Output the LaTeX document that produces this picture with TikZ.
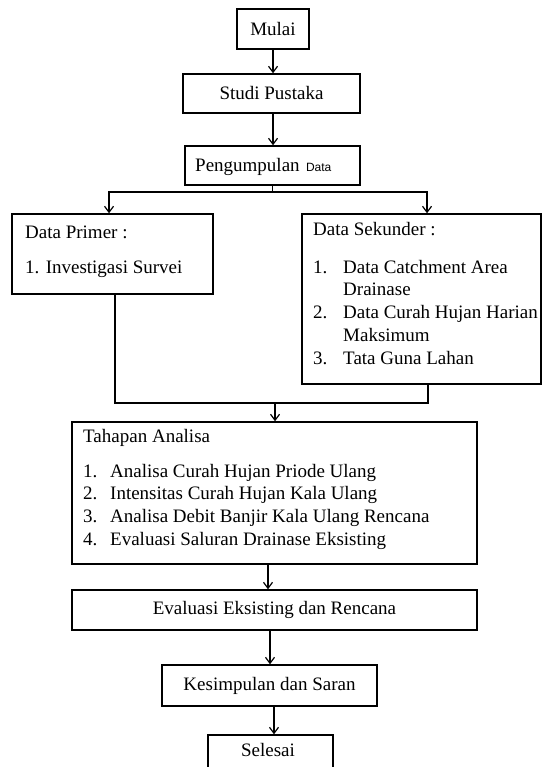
\documentclass[tikz,border=0pt]{standalone}
\usepackage{fontspec}
\setmainfont{Liberation Serif}
\setsansfont{Liberation Sans}
\usetikzlibrary{arrows.meta}
\begin{document}
\begin{tikzpicture}[x=1pt,y=-1pt,
  box/.style={draw, line width=1.5pt, inner sep=0pt},
  link/.style={line width=1.2pt},
  arr/.style={link, -{Straight Barb[length=6pt,width=9pt,line width=1.2pt]}},
  txt/.style={inner sep=0pt, font=\fontsize{19}{22.75}\selectfont},
  line/.style={txt, anchor=base west},
  list/.style={txt, anchor=base west, align=left}]
\useasboundingbox (0,0) rectangle (542,767);
\clip (0,0) rectangle (542,767);

% process boxes
\node[box, txt, minimum width=72pt,  minimum height=40pt] (mulai) at (273,29) {Mulai};
\node[box, txt, minimum width=177pt, minimum height=39pt] (studi) at (271.5,93.5) {Studi Pustaka};
\node[box, minimum width=175pt, minimum height=39pt] (kumpul) at (272.5,165.5) {};
\node[line] (kumpultxt) at (195,172) {Pengumpulan\,\,{\sffamily\fontsize{12}{14}\selectfont Data}};

\node[box, minimum width=201pt, minimum height=80pt] (primer) at (112.5,254) {};
\node[line] (primerhead) at (25,238) {Data Primer :};
\node[line] (primeritem) at (25,273) {1. Investigasi Survei};

\node[box, minimum width=239pt, minimum height=170pt] (sekunder) at (421.5,299) {};
\node[line] (sekunderhead) at (313,235) {Data Sekunder :};
\node[list] (sekunderlist) at (313,273) {\begin{tabular}[t]{@{}p{30pt}@{}l@{}}
1. & Data Catchment Area\\
   & Drainase\\
2. & Data Curah Hujan Harian\\
   & Maksimum\\
3. & Tata Guna Lahan
\end{tabular}};

\node[box, minimum width=405pt, minimum height=142pt] (tahap) at (274.5,493) {};
\node[line] (tahaphead) at (83,442) {Tahapan Analisa};
\node[list] (tahaplist) at (83,477) {\begin{tabular}[t]{@{}p{27pt}@{}l@{}}
1. & Analisa Curah Hujan Priode Ulang\\
2. & Intensitas Curah Hujan Kala Ulang\\
3. & Analisa Debit Banjir Kala Ulang Rencana\\
4. & Evaluasi Saluran Drainase Eksisting
\end{tabular}};

\node[box, txt, minimum width=405pt, minimum height=40pt] (evaluasi) at (274.5,610) {Evaluasi Eksisting dan Rencana};
\node[box, txt, minimum width=215pt, minimum height=41pt] (simpul) at (269.5,685.5) {Kesimpulan dan Saran};
\node[box, minimum width=125pt, minimum height=46pt] (selesai) at (270.5,758) {};
\node[txt] (selesaitxt) at (268,750) {Selesai};

% junction points
\coordinate (split) at (272,192);
\coordinate (merge) at (275,403);

% connectors
\draw[arr] (mulai.south) -- (mulai.south |- studi.north);
\draw[arr] (273,0 |- studi.south) -- (273,0 |- kumpul.north);
\draw[link] (kumpul.south) -- (kumpul.south |- split);
\draw[arr] (split) -| (109,0 |- primer.north);
\draw[arr] (split) -| (427,0 |- sekunder.north);
\draw[link] (115,0 |- primer.south) |- (merge);
\draw[link] (428,0 |- sekunder.south) |- (merge);
\draw[arr] (merge) -- (merge |- tahap.north);
\draw[arr] (268,0 |- tahap.south) -- (268,0 |- evaluasi.north);
\draw[arr] (270,0 |- evaluasi.south) -- (270,0 |- simpul.north);
\draw[arr] (274,0 |- simpul.south) -- (274,0 |- selesai.north);
\end{tikzpicture}
\end{document}
